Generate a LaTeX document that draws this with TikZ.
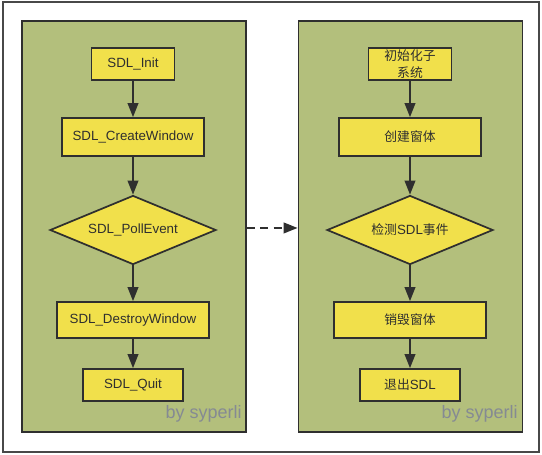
\documentclass[tikz,border=0pt]{standalone}
\usepackage{fontspec}
\setmainfont{Liberation Sans}
\newfontfamily\cjk{Noto Sans CJK SC}
\usetikzlibrary{shapes.geometric,arrows.meta}
\definecolor{panelfill}{HTML}{B3BF7C}
\definecolor{boxfill}{HTML}{F1E04B}
\definecolor{inkc}{HTML}{2F2F2F}
\definecolor{framec}{HTML}{484848}
\definecolor{wmc}{HTML}{858A93}
\tikzset{
  panel/.style={draw=inkc, fill=panelfill, line width=1.3pt, minimum width=168pt, minimum height=308.25pt, inner sep=0pt},
  box/.style={draw=inkc, fill=boxfill, line width=1.3pt, text=inkc, font=\fontsize{10}{12}\selectfont, inner sep=0pt, align=center},
  dia/.style={box, shape=diamond, aspect=2.4, minimum width=124.5pt, minimum height=51.75pt},
  sInit/.style={box, minimum width=62.25pt, minimum height=24pt},
  sCreate/.style={box, minimum width=106.5pt, minimum height=28.5pt},
  sDestroy/.style={box, minimum width=114pt, minimum height=27pt},
  sQuit/.style={box, minimum width=75pt, minimum height=24pt},
  arr/.style={draw=inkc, line width=1.3pt, -{Triangle[length=10.5pt,width=8pt]}},
  dasharr/.style={arr, dash pattern=on 6pt off 4pt},
  wm/.style={text=wmc, font=\fontsize{13.5}{16}\selectfont, inner sep=0pt, anchor=base east},
  frm/.style={draw=framec, line width=1.4pt, minimum width=402pt, minimum height=337.5pt, inner sep=0pt}
}
\begin{document}
\begin{tikzpicture}[x=0.75pt,y=-0.75pt]
\useasboundingbox (0,0) rectangle (542,454);
\node[frm] (frame) at (271,227) {};
% panels
\node[panel] (lp) at (134,226.5) {};
\node[panel] (rp) at (410.5,226.5) {};
% left column
\node[sInit] (a1) at (133,64) {SDL\_Init};
\node[sCreate] (a2) at (133,137) {SDL\_CreateWindow};
\node[dia] (a3) at (133,230) {SDL\_PollEvent};
\node[sDestroy] (a4) at (133,320) {SDL\_DestroyWindow};
\node[sQuit] (a5) at (133,385) {SDL\_Quit};
% right column
\node[sInit, font={\cjk\fontsize{9.6}{12.5}\selectfont}] (b1) at (410,64) {初始化子\\系统};
\node[sCreate] (b2) at (410,137) {{\cjk\fontsize{9.6}{12}\selectfont 创建窗体}};
\node[dia] (b3) at (410,230) {{\cjk\fontsize{9.6}{12}\selectfont 检测}SDL{\cjk\fontsize{9.6}{12}\selectfont 事件}};
\node[sDestroy] (b4) at (410,320) {{\cjk\fontsize{9.6}{12}\selectfont 销毁窗体}};
\node[sQuit] (b5) at (410,385) {{\cjk\fontsize{9.6}{12}\selectfont 退出}SDL};
% connectors
\draw[arr] (a1) -- (a2);
\draw[arr] (a2) -- (a3);
\draw[arr] (a3) -- (a4);
\draw[arr] (a4) -- (a5);
\draw[arr] (b1) -- (b2);
\draw[arr] (b2) -- (b3);
\draw[arr] (b3) -- (b4);
\draw[arr] (b4) -- (b5);
\draw[dasharr] ([yshift=-1.1pt]lp.east) -- ([yshift=-1.1pt]rp.west);
% watermarks
\node[wm] (w1) at (242,418) {by syperli};
\node[wm] (w2) at (518,418) {by syperli};
\end{tikzpicture}
\end{document}
